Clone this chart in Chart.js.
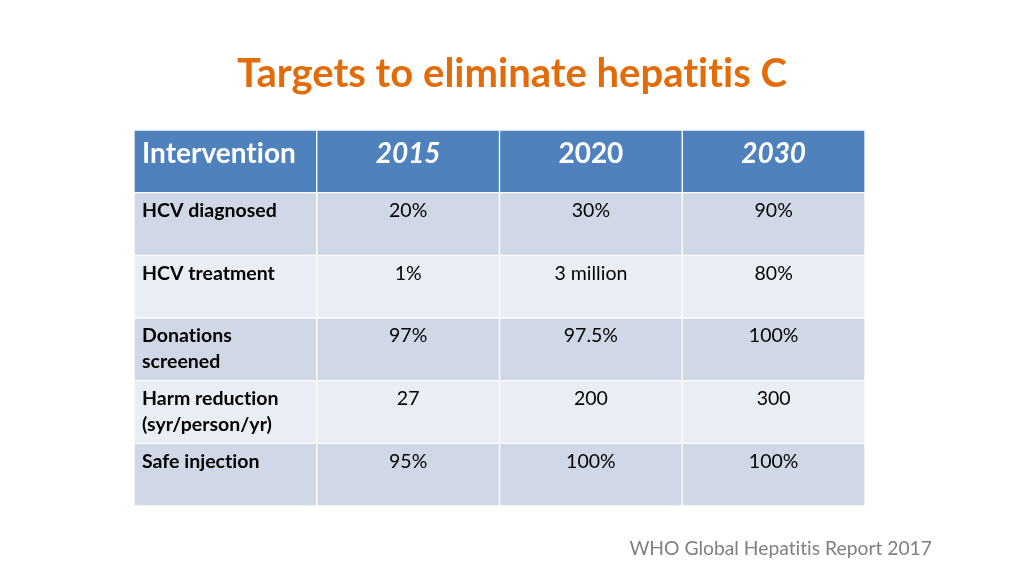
<!DOCTYPE html>
<html>
<head>
<meta charset="utf-8">
<script src="https://cdn.jsdelivr.net/npm/chart.js@4/dist/chart.umd.min.js"></script>
<style>
  html, body { margin: 0; padding: 0; background: #fff; }
  #wrap { position: relative; width: 1024px; height: 576px; }
  #title { position: absolute; left: 0; width: 1024px; top: 47px; text-align: center;
           font-family: Lato, "Open Sans", sans-serif; font-weight: bold; font-size: 40px;
           color: #E36C0A; line-height: 50px; font-variant-ligatures: none; font-feature-settings: "liga" 0; }
  #note { position: absolute; right: 92px; top: 535px; font-family: Lato, "Open Sans", sans-serif;
          font-size: 19.3px; color: #7F7F7F; line-height: 26px; font-variant-ligatures: none; font-feature-settings: "liga" 0; }
  canvas { position: absolute; left: 0; top: 0; }
</style>
</head>
<body>
<div id="wrap">
  <canvas id="c" width="1024" height="576"></canvas>
  <div id="title">Targets to eliminate hepatitis C</div>
  <div id="note">WHO Global Hepatitis Report 2017</div>
</div>
<script>
const columns = ['Intervention', '2015', '2020', '2030'];
const headerItalic = [false, true, false, true];
const interventions = ['HCV diagnosed', 'HCV treatment', 'Donations\nscreened', 'Harm reduction\n(syr/person/yr)', 'Safe injection'];
const targets2015 = ['20%', '1%', '97%', '27', '95%'];
const targets2020 = ['30%', '3 million', '97.5%', '200', '100%'];
const targets2030 = ['90%', '80%', '100%', '300', '100%'];

const rowLabels = ['header'].concat(interventions);
const tableCols = [interventions, targets2015, targets2020, targets2030];

const headerColor = '#4F81BD';
const oddColor = '#D0D8E8';
const evenColor = '#E9EDF4';
const rowColors = rowLabels.map((r, i) => i === 0 ? headerColor : (i % 2 === 1 ? oddColor : evenColor));

const datasets = columns.map((c, j) => ({
  label: c,
  data: rowLabels.map(() => 1),
  backgroundColor: rowColors,
  borderColor: '#FFFFFF',
  borderWidth: 1,
  borderSkipped: false,
  barPercentage: 1,
  categoryPercentage: 1
}));

const textPlugin = {
  id: 'cellText',
  afterDatasetsDraw(chart) {
    const ctx = chart.ctx;
    const xs = chart.scales.x, ys = chart.scales.y;
    const rowH = Math.abs(ys.getPixelForValue(1) - ys.getPixelForValue(0));
    ctx.save();
    if ('letterSpacing' in ctx) ctx.letterSpacing = '0.01px';
    ctx.textBaseline = 'middle';
    // header
    columns.forEach((c, j) => {
      const top = ys.getPixelForValue(0) - rowH / 2;
      ctx.fillStyle = '#FFFFFF';
      ctx.font = (headerItalic[j] ? 'italic ' : '') + 'bold 28px Lato, "Open Sans", sans-serif';
      if (j === 0) {
        ctx.textAlign = 'left';
        ctx.fillText(c, xs.getPixelForValue(j) + 8, top + 24);
      } else {
        ctx.textAlign = 'center';
        ctx.fillText(c, xs.getPixelForValue(j + 0.5), top + 24);
      }
    });
    // body
    for (let i = 0; i < interventions.length; i++) {
      const top = ys.getPixelForValue(i + 1) - rowH / 2;
      tableCols.forEach((col, j) => {
        const lines = String(col[i]).split('\n');
        ctx.fillStyle = '#000000';
        if (j === 0) {
          ctx.font = 'bold 19.5px Lato, "Open Sans", sans-serif';
          ctx.textAlign = 'left';
        } else {
          ctx.font = '19.5px Lato, "Open Sans", sans-serif';
          ctx.textAlign = 'center';
        }
        const x = j === 0 ? xs.getPixelForValue(0) + 8 : xs.getPixelForValue(j + 0.5);
        lines.forEach((ln, k) => ctx.fillText(ln, x, top + 18 + k * 26));
      });
    }
    ctx.restore();
  }
};

new Chart(document.getElementById('c'), {
  type: 'bar',
  data: { labels: rowLabels, datasets },
  options: {
    indexAxis: 'y',
    responsive: false,
    animation: false,
    events: [],
    layout: { padding: { left: 134, right: 159, top: 130, bottom: 70 } },
    scales: {
      x: { type: 'linear', stacked: true, min: 0, max: columns.length, display: false },
      y: { type: 'category', stacked: true, display: false }
    },
    plugins: { legend: { display: false }, tooltip: { enabled: false }, title: { display: false } }
  },
  plugins: [textPlugin]
});
</script>
</body>
</html>
